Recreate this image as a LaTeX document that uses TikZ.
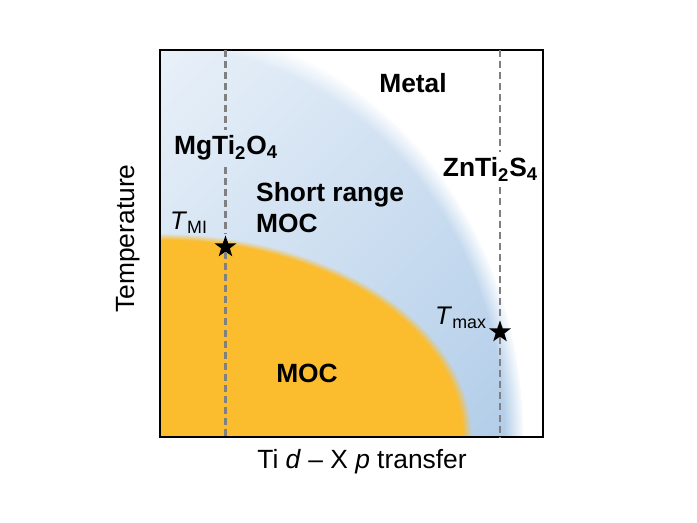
\documentclass[tikz,border=0pt]{standalone}
\usepackage{fontspec}
\setmainfont{Liberation Sans}
\usepackage{tikz}
\usetikzlibrary{shapes.geometric,fadings}

\definecolor{mocorange}{RGB}{251,188,46}
\definecolor{srblue}{RGB}{164,196,229}
\definecolor{guidegray}{RGB}{128,128,128}

% soft rims of the two phase regions (white = opaque, black = clear)
\pgfdeclareradialshading{srrim}{\pgfpointorigin}{color(0bp)=(white); color(23.6bp)=(white); color(25bp)=(black); color(50bp)=(black)}
\pgfdeclarefading{srrim}{\pgfuseshading{srrim}}
\pgfdeclareradialshading{mocrim}{\pgfpointorigin}{color(0bp)=(white); color(24.2bp)=(white); color(25bp)=(black); color(50bp)=(black)}
\pgfdeclarefading{mocrim}{\pgfuseshading{mocrim}}

\newcommand{\subT}[1]{\textit{T}\textsubscript{#1}}

\begin{document}
\begin{tikzpicture}[
  phase/.style={font=\fontsize{15}{17.6}\selectfont\bfseries},
  axislabel/.style={font=\fontsize{15}{17}\selectfont},
  tlabel/.style={font=\fontsize{14.5}{16}\selectfont,inner sep=1pt},
  guideline/.style={guidegray,line width=1.4pt,dash pattern=on 4pt off 2.3pt},
  starmark/.style={star,star points=5,star point ratio=2.5,fill=black,inner sep=0pt,minimum size=0.46cm}]
  \useasboundingbox (-3.2,-1.72) rectangle (10.74,8.74);
  % phase regions, cut to the frame
  \begin{scope}
    \clip (0,0) rectangle (7.66,7.74);
    \shade[top color=srblue!12!white,bottom color=srblue,shading angle=45,path fading=srrim] (0,0) ellipse (7.26 and 8.23);
    \fill[mocorange,path fading=mocrim] (0,0) ellipse (6.22 and 4.06);
  \end{scope}
  \draw[line width=1.2pt] (0,0) rectangle (7.66,7.74);
  \node[phase,anchor=base] (metal) at (5.06,6.88) {Metal};
  \node[phase,anchor=base] (mg) at (1.32,5.64) {MgTi\textsubscript{2}O\textsubscript{4}};
  \node[phase,anchor=base] (zn) at (6.61,5.20) {ZnTi\textsubscript{2}S\textsubscript{4}};
  \node[phase,anchor=north west,align=left] (sr) at (1.80,5.22) {Short range\\MOC};
  \node[phase,anchor=base] (moc) at (2.94,1.08) {MOC};
  \node[tlabel,anchor=base east] (tmi) at (1.0,4.14) {\subT{MI}};
  \node[tlabel,anchor=base east] (tmax) at (6.58,2.24) {\subT{max}};
  \node[starmark] (mistar) at (1.31,3.80) {};
  \node[starmark] (maxstar) at (6.8,2.10) {};
  % the two compounds
  \coordinate (mgtop) at (1.31,7.74);
  \coordinate (mgbot) at (1.31,0);
  \coordinate (zntop) at (6.8,7.74);
  \coordinate (znbot) at (6.8,0);
  \draw[guideline] (mgtop) -- (mgtop |- mg.north);
  \draw[guideline] (mgtop |- mg.south) -- (mistar);
  \draw[guideline] (mistar) -- (mgbot);
  \draw[guideline] (zntop) -- (zntop |- zn.north);
  \draw[guideline] (zntop |- zn.south) -- (maxstar);
  \draw[guideline] (maxstar) -- (znbot);
  \node[axislabel,rotate=90,anchor=base] (ylab) at (-0.5,3.97) {Temperature};
  \node[axislabel,anchor=base] (xlab) at (4.04,-0.64) {Ti \textit{d} -- X \textit{p} transfer};
\end{tikzpicture}
\end{document}
